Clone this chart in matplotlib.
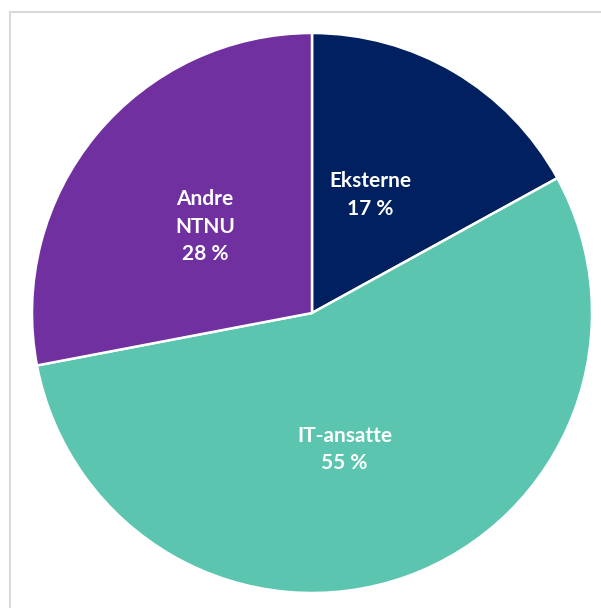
import numpy as np
import matplotlib.pyplot as plt
from matplotlib.lines import Line2D

# Data
labels = ["Eksterne", "IT-ansatte", "Andre\nNTNU"]
values = [17, 55, 28]
colors = ["#002060", "#5BC5B0", "#7030A0"]

fig = plt.figure(figsize=(6.01, 6.08), dpi=100)
ax = fig.add_axes([0, 0, 1, 1])

wedges, _ = ax.pie(values, colors=colors, startangle=90, counterclock=False,
                   wedgeprops=dict(edgecolor="white", linewidth=1.8))

# labels inside the slices
offsets = [(-0.04, 0.0), (-0.05, -0.026), (-0.005, -0.004)]
total = sum(values)
for w, lab, v, (dx, dy) in zip(wedges, labels, values, offsets):
    ang = np.deg2rad((w.theta1 + w.theta2) / 2)
    r = 0.49
    x = r * np.cos(ang) + dx
    y = r * np.sin(ang) + dy
    ax.text(x, y, f"{lab}\n{round(100 * v / total)} %", ha="center", va="center",
            color="white", fontsize=15, fontweight="bold", family="Lato",
            linespacing=1.45)

# map data units to pixels: center at (312, 313) px, radius 280 px
ax.set_xlim(-312 / 280, (601 - 312) / 280)
ax.set_ylim(-(608 - 313) / 280, 313 / 280)
ax.set_aspect("auto")
ax.axis("off")

# light grey frame (top and left edges visible)
fig.add_artist(Line2D([10 / 601, 1], [1 - 12 / 608, 1 - 12 / 608], color="#D9D9D9", linewidth=1.5))
fig.add_artist(Line2D([10 / 601, 10 / 601], [0, 1 - 12 / 608], color="#D9D9D9", linewidth=1.5))

fig.savefig("out.png", dpi=100, facecolor="white")
